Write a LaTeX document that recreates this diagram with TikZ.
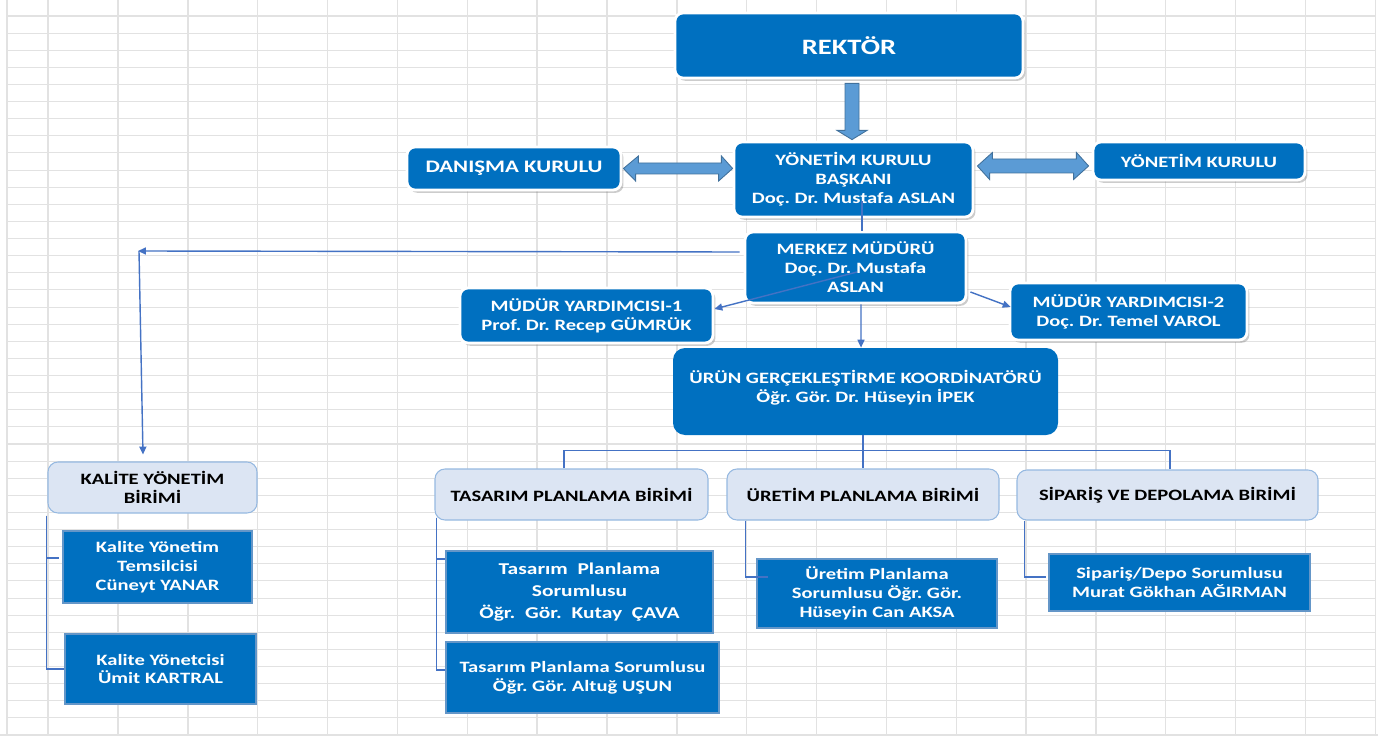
\documentclass[tikz,border=0pt]{standalone}
\usepackage{fontspec}
\setmainfont{Carlito}[FakeStretch=1.3]
\usetikzlibrary{arrows.meta, calc, shadows}
\definecolor{mavi}{RGB}{0,112,192}
\definecolor{okmavi}{RGB}{91,155,213}
\definecolor{okkenar}{RGB}{65,113,156}
\definecolor{cizgimavi}{RGB}{68,114,196}
\definecolor{acikmavi}{RGB}{220,229,243}
\definecolor{acikkenar}{RGB}{150,185,225}
\definecolor{altkenar}{RGB}{100,150,200}
\definecolor{izgara}{RGB}{226,226,226}
\def\px{0.02cm}

\begin{document}
\frenchspacing
\begin{tikzpicture}[x=\px, y=-\px,
        yazi/.style={font=\bfseries\fontsize{9pt}{10.8pt}\selectfont, align=center, inner sep=0pt},
        boyut/.style 2 args={minimum width=#1*\px, minimum height=#2*\px},
        anakutu/.style={yazi, rectangle, rounded corners=0.16cm, draw=white, line width=1.6pt, fill=mavi, text=white,
            drop shadow={shadow xshift=1.4pt, shadow yshift=-1.6pt, opacity=0.4}},
        birimkutu/.style={yazi, rectangle, rounded corners=0.2cm, draw=acikkenar, line width=0.6pt, fill=acikmavi, text=black},
        altkutu/.style={yazi, rectangle, draw=altkenar, line width=0.6pt, fill=mavi, text=white},
        ok/.style={-{Triangle[length=4.5pt, width=4pt]}, cizgimavi, line width=0.8pt},
        hat/.style={cizgimavi, line width=1pt},
        blokok/.style={fill=okmavi, draw=okkenar, line width=0.5pt},
        izgaraciz/.style={izgara, line width=0.6pt}
    ]
    \useasboundingbox (0,0) rectangle (1378,736);
    % excel izgarasi
    \fill[white] (0,0) rectangle (1378,736);
    \foreach \gx in {7,48} \draw[izgaraciz, line width=0.8pt] (\gx,0) -- (\gx,736);
    \foreach \k in {0,...,18} \draw[izgaraciz, line width=0.8pt] ({118+69.85*\k},0) -- ({118+69.85*\k},736);
    \foreach \k in {0,...,41} \draw[izgaraciz] (7,{16+17.12*\k}) -- (1375,{16+17.12*\k});
    \draw[izgaraciz, line width=1.2pt] (0,735) -- (1378,735);

    % ust kademe
    \node[anakutu, boyut={348}{65}, font=\bfseries\fontsize{12.5pt}{15pt}\selectfont] (rektor) at (849,45.5) {REKTÖR};
    \node[anakutu, boyut={239}{75}] (ykb) at (853.5,179.5) {YÖNETİM KURULU\\BAŞKANI\\Doç. Dr. Mustafa ASLAN};
    \node[anakutu, boyut={214}{43}, font=\bfseries\fontsize{10pt}{12pt}\selectfont] (danisma) at (514,168.5) {DANIŞMA KURULU};
    \node[anakutu, boyut={212}{38}] (yk) at (1199,161) {YÖNETİM KURULU};
    \node[anakutu, boyut={221}{71}] (merkez) at (855.5,267.5) {MERKEZ MÜDÜRÜ\\Doç. Dr. Mustafa\\ASLAN};
    \node[anakutu, boyut={253}{55}] (my1) at (586.5,315.5) {MÜDÜR YARDIMCISI-1\\Prof. Dr. Recep GÜMRÜK};
    \node[anakutu, boyut={237}{57}] (my2) at (1128.5,311.5) {MÜDÜR YARDIMCISI-2\\Doç. Dr. Temel VAROL};
    \node[yazi, rectangle, rounded corners=0.24cm, fill=mavi, text=white, boyut={385}{87}] (urun) at (865.5,391.5) {ÜRÜN GERÇEKLEŞTİRME KOORDİNATÖRÜ\\Öğr. Gör. Dr. Hüseyin İPEK\\[-5pt]\mbox{}};

    % birimler
    \node[birimkutu, boyut={209}{51}] (kalite) at (152.5,487.5) {KALİTE YÖNETİM\\BİRİMİ};
    \node[birimkutu, boyut={273}{51}] (tasarim) at (571.5,494.5) {TASARIM PLANLAMA BİRİMİ};
    \node[birimkutu, boyut={272}{51}] (uretim) at (863,494.5) {ÜRETİM PLANLAMA BİRİMİ};
    \node[birimkutu, boyut={301}{50}] (siparis) at (1167.5,495) {SİPARİŞ VE DEPOLAMA BİRİMİ};

    % sorumlular
    \node[altkutu, boyut={189}{72}] (kal1) at (157.5,567) {Kalite Yönetim\\Temsilcisi\\Cüneyt YANAR};
    \node[altkutu, boyut={191}{70}] (kal2) at (160.5,669) {Kalite Yönetcisi\\Ümit KARTRAL};
    \node[altkutu, boyut={267}{82}, font=\bfseries\fontsize{9.4pt}{12.3pt}\selectfont] (tas1) at (579.5,592) {Tasarım~~Planlama\\Sorumlusu\\Öğr.~~Gör.~~Kutay~~ÇAVA};
    \node[altkutu, boyut={273}{71}] (tas2) at (582.5,677.5) {Tasarım Planlama Sorumlusu\\Öğr. Gör. Altuğ UŞUN};
    \node[altkutu, boyut={240}{69}] (ure1) at (877,593.5) {Üretim Planlama\\Sorumlusu Öğr. Gör.\\Hüseyin Can AKSA};
    \node[altkutu, boyut={261}{57}] (sip1) at (1179.5,582.5) {Sipariş/Depo Sorumlusu\\Murat Gökhan AĞIRMAN};

    % blok oklar
    \filldraw[blokok] ($(rektor.south)+(-4,4)$) -- ++(14,0) -- ++(0,47) -- ++(8,0) -- ($(ykb.north)+(-1.5,-1)$)
        -- ($(rektor.south)+(-12,51)$) -- ++(8,0) -- cycle;
    \filldraw[blokok] ($(danisma.east)+(1,0)$) -- ++(15,-12.5) -- ++(0,7) -- ++(83,0) -- ++(0,-7)
        -- (ykb.west |- danisma.east) -- ++(-14,12.5) -- ++(0,-7) -- ++(-83,0) -- ++(0,7) -- cycle;
    \filldraw[blokok] ($(ykb.east)+(3,-13.5)$) -- ++(15,-13.5) -- ++(0,6.5) -- ++(84,0) -- ++(0,-6.5)
        -- ($(yk.west)+(-3,5)$) -- ++(-15,13.5) -- ++(0,-6.5) -- ++(-84,0) -- ++(0,6.5) -- cycle;

    % baglantilar
    \draw[hat, line width=0.8pt] ($(ykb.south)+(8.5,-17)$) -- ($(merkez.north)+(6.5,0)$);
    \coordinate (kose) at (138,251);
    \draw[ok] ($(merkez.west)+(-4,-15.5)$) -- (kose);
    \draw[ok] ($(kose)+(1,0)$) -- ($(kalite.north)+(-9.5,-7)$);
    \draw[ok] ($(merkez.center)+(1.5,4.5)$) -- ($(my1.east)+(0,-6.5)$);
    \draw[ok] ($(merkez.east)+(3,24.5)$) -- ($(my2.west)+(2,-4.5)$);
    \draw[ok] ($(merkez.south)+(5.5,0)$) -- ($(urun.north)+(-4.5,0)$);
    \draw[hat] ($(urun.south)+(-2.5,0)$) -- (uretim.north);
    \draw[hat] ($(tasarim.north)+(-7.5,0)$) -- ++(0,-18) -| ($(siparis.north)+(2.5,0)$);

    % alt baglantilar
    \draw[hat] ($(kalite.south west)+(-1,2)$) |- ($(kal1.west)+(-3,-9)$);
    \draw[hat] ($(kalite.south west)+(-1,2)$) |- (kal2.west);
    \draw[hat] ($(tasarim.south west)+(2,-3)$) |- ($(tas1.west)+(0,-33)$);
    \draw[hat] ($(tasarim.south west)+(2,-3)$) |- ($(tas2.west)+(0,-7.5)$);
    \draw[hat] ($(uretim.south west)+(19,0)$) |- ($(ure1.west)+(12,-16.5)$);
    \draw[hat] ($(siparis.south west)+(8,0)$) |- ($(sip1.west)+(-2,-5.5)$);
\end{tikzpicture}
\end{document}
